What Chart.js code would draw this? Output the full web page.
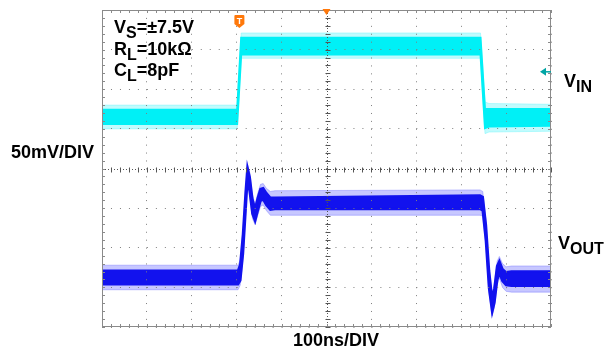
<!DOCTYPE html>
<html>
<head>
<meta charset="utf-8">
<script src="https://cdn.jsdelivr.net/npm/chart.js@4.4.1/dist/chart.umd.min.js"></script>
<style>
  html, body { margin: 0; padding: 0; background: #fff; }
  #wrap { position: relative; width: 606px; height: 347px; overflow: hidden; }
  canvas { position: absolute; left: 0; top: 0; }
  .lbl { position: absolute; font-family: "Liberation Sans", Arial, sans-serif; font-weight: bold;
         font-size: 18px; line-height: 18px; color: #000; white-space: nowrap; }
  .lbl sub { font-size: 16px; vertical-align: baseline; position: relative; top: 5px; }
  #trigT { position: absolute; font-family: "Liberation Sans", Arial, sans-serif; font-weight: bold;
           font-size: 9px; line-height: 9px; color: #fff; width: 10px; text-align: center; }
</style>
</head>
<body>
<div id="wrap">
  <canvas id="c" width="606" height="347"></canvas>
  <div class="lbl" style="left:114px; top:18px;">V<sub>S</sub>=±7.5V</div>
  <div class="lbl" style="left:114px; top:40px;">R<sub>L</sub>=10kΩ</div>
  <div class="lbl" style="left:114px; top:61px;">C<sub>L</sub>=8pF</div>
  <div class="lbl" style="left:11px; top:143px;">50mV/DIV</div>
  <div class="lbl" style="left:293px; top:331px;">100ns/DIV</div>
  <div class="lbl" style="left:564px; top:72px;">V<sub>IN</sub></div>
  <div class="lbl" style="left:558px; top:234px;">V<sub>OUT</sub></div>
  <div id="trigT">T</div>
</div>
<script>
// ---- axis settings (oscilloscope graticule) ----
const timeMin = 0, timeMax = 1000, timeDiv = 100;   // ns, 100ns/DIV
const voltMin = -200, voltMax = 200, voltDiv = 50;  // mV, 50mV/DIV

// ---- V_IN trace (cyan): times (ns) and noise envelope (mV) ----
const vinTime      = [0,   301, 310, 843, 853, 862, 1000];
const vinCoreHigh  = [74,  74,  165, 165, 75,  75,  75];
const vinCoreLow   = [56,  56,  144, 144, 51,  53,  54];
const vinFringeHigh= [80,  80,  171, 171, 84,  82,  81];
const vinFringeLow = [50,  50,  139, 139, 44,  46,  47];

// ---- V_OUT trace (blue): times (ns) and noise envelope (mV) ----
const voutTime      = [0,    303,  308,  314,  320, 324, 329, 335, 341, 347, 353, 359, 366, 375, 385, 842, 848, 855, 862,  869,  874,  880,  885,  892,  900,  912,  1000];
const voutCoreHigh  = [-129, -129, -121, -83,  -29, 1,   -11, -39, -51, -37, -26, -25, -31, -37, -37, -34, -36, -71, -129, -165, -151, -123, -117, -127, -131, -130, -130];
const voutCoreLow   = [-146, -146, -141, -107, -51, -13, -29, -57, -66, -53, -41, -39, -46, -52, -51, -51, -53, -91, -151, -181, -169, -141, -132, -142, -147, -148, -148];
const voutFringeHigh= [-122, -122, -115, -77,  -23, 5,   -5,  -33, -45, -31, -20, -19, -25, -29, -28, -27, -29, -65, -123, -159, -145, -117, -111, -120, -124, -123, -123];
const voutFringeLow = [-153, -153, -147, -113, -57, -18, -35, -63, -71, -59, -48, -46, -53, -59, -59, -59, -60, -97, -157, -186, -175, -147, -138, -150, -155, -156, -156];

// ---- scope markers ----
const triggerTime = 306;      // ns, trigger "T" marker
const horizPosTime = 500;     // ns, horizontal position marker
const vinGroundLevel = 122;   // mV, V_IN channel marker arrow

const cyanCore = 'rgb(0,240,246)', cyanFringe = 'rgba(100,245,250,0.4)';
const blueCore = 'rgb(18,18,238)', blueFringe = 'rgba(80,80,255,0.32)';

function pts(t, v) { return t.map((x, i) => ({ x: x, y: v[i] })); }

function band(t, hi, lo, color, order, width) {
  return [
    { data: pts(t, hi), borderColor: color, backgroundColor: color, borderWidth: width, fill: false, order: order },
    { data: pts(t, lo), borderColor: color, backgroundColor: color, borderWidth: width, fill: '-1', order: order }
  ];
}

const datasets = [
  ...band(vinTime, vinFringeHigh, vinFringeLow, cyanFringe, 2, 1),
  ...band(vinTime, vinCoreHigh, vinCoreLow, cyanCore, 1, 2),
  ...band(voutTime, voutFringeHigh, voutFringeLow, blueFringe, 2, 1),
  ...band(voutTime, voutCoreHigh, voutCoreLow, blueCore, 1, 2.5)
];

const scopeDecor = {
  id: 'scopeDecor',
  afterDraw(chart) {
    const { ctx, chartArea: a, scales: { x, y } } = chart;
    ctx.save();
    // center lines
    const cx = Math.round(x.getPixelForValue((timeMin + timeMax) / 2)) + 0.5;
    const cy = Math.round(y.getPixelForValue(0)) + 0.5;
    ctx.strokeStyle = '#555';
    ctx.lineWidth = 1;
    ctx.setLineDash([1, 2]);
    ctx.beginPath();
    ctx.moveTo(a.left, cy); ctx.lineTo(a.right, cy);
    ctx.moveTo(cx, a.top); ctx.lineTo(cx, a.bottom);
    ctx.stroke();
    ctx.setLineDash([]);
    ctx.beginPath();
    for (let t = timeMin; t <= timeMax; t += timeDiv / 5) {
      const px = Math.round(x.getPixelForValue(t)) + 0.5;
      ctx.moveTo(px, cy - 2); ctx.lineTo(px, cy + 3);
    }
    for (let v = voltMin; v <= voltMax; v += voltDiv / 5) {
      const py = Math.round(y.getPixelForValue(v)) + 0.5;
      ctx.moveTo(cx - 2, py); ctx.lineTo(cx + 3, py);
    }
    ctx.stroke();
    // frame with minor ticks
    ctx.strokeStyle = '#8a8a8a';
    ctx.strokeRect(Math.round(a.left) + 0.5, Math.round(a.top) + 0.5, Math.round(a.width) - 1, Math.round(a.height) - 1);
    ctx.beginPath();
    for (let t = timeMin; t <= timeMax; t += timeDiv / 5) {
      const px = Math.round(x.getPixelForValue(t)) + 0.5;
      ctx.moveTo(px, a.top); ctx.lineTo(px, a.top + 3);
      ctx.moveTo(px, a.bottom); ctx.lineTo(px, a.bottom - 3);
    }
    for (let v = voltMin; v <= voltMax; v += voltDiv / 5) {
      const py = Math.round(y.getPixelForValue(v)) + 0.5;
      ctx.moveTo(a.left, py); ctx.lineTo(a.left + 3, py);
      ctx.moveTo(a.right, py); ctx.lineTo(a.right - 3, py);
    }
    ctx.stroke();
    // horizontal position marker (orange triangle at top)
    const hx = x.getPixelForValue(horizPosTime);
    ctx.fillStyle = 'rgb(255,120,10)';
    ctx.beginPath();
    ctx.moveTo(hx - 4, a.top - 1); ctx.lineTo(hx + 4, a.top - 1); ctx.lineTo(hx, a.top + 5);
    ctx.closePath(); ctx.fill();
    // trigger marker
    const tx = x.getPixelForValue(triggerTime);
    const ty = a.top + 5;
    ctx.beginPath();
    ctx.moveTo(tx - 5, ty + 1);
    ctx.quadraticCurveTo(tx - 5, ty, tx - 4, ty);
    ctx.lineTo(tx + 4, ty);
    ctx.quadraticCurveTo(tx + 5, ty, tx + 5, ty + 1);
    ctx.lineTo(tx + 5, ty + 9);
    ctx.lineTo(tx, ty + 13);
    ctx.lineTo(tx - 5, ty + 9);
    ctx.closePath(); ctx.fill();
    const tEl = document.getElementById('trigT');
    tEl.style.left = (tx - 5) + 'px';
    tEl.style.top = (ty + 1.5) + 'px';
    // V_IN channel arrow at right edge
    const gy = y.getPixelForValue(vinGroundLevel);
    ctx.fillStyle = 'rgb(0,165,165)';
    ctx.strokeStyle = 'rgb(0,165,165)';
    ctx.beginPath();
    ctx.moveTo(a.right - 11, gy); ctx.lineTo(a.right - 5, gy - 4); ctx.lineTo(a.right - 5, gy + 4);
    ctx.closePath(); ctx.fill();
    ctx.lineWidth = 1.5;
    ctx.beginPath(); ctx.moveTo(a.right - 6, gy); ctx.lineTo(a.right, gy); ctx.stroke();
    ctx.restore();
  }
};

new Chart(document.getElementById('c'), {
  type: 'line',
  data: { datasets: datasets },
  options: {
    responsive: false,
    animation: false,
    events: [],
    layout: { padding: { left: 102, right: 55, top: 10, bottom: 20 } },
    elements: { point: { radius: 0 }, line: { tension: 0 } },
    plugins: { legend: { display: false }, tooltip: { enabled: false } },
    scales: {
      x: {
        type: 'linear', min: timeMin, max: timeMax,
        ticks: { display: false, stepSize: timeDiv },
        grid: { color: '#7f7f7f', lineWidth: 1, drawTicks: false, z: 1 },
        border: { display: false, dash: [1, 6.92] }
      },
      y: {
        type: 'linear', min: voltMin, max: voltMax,
        ticks: { display: false, stepSize: voltDiv },
        grid: { color: '#7f7f7f', lineWidth: 1, drawTicks: false, z: 1 },
        border: { display: false, dash: [1, 7.98] }
      }
    }
  },
  plugins: [scopeDecor]
});
</script>
</body>
</html>
